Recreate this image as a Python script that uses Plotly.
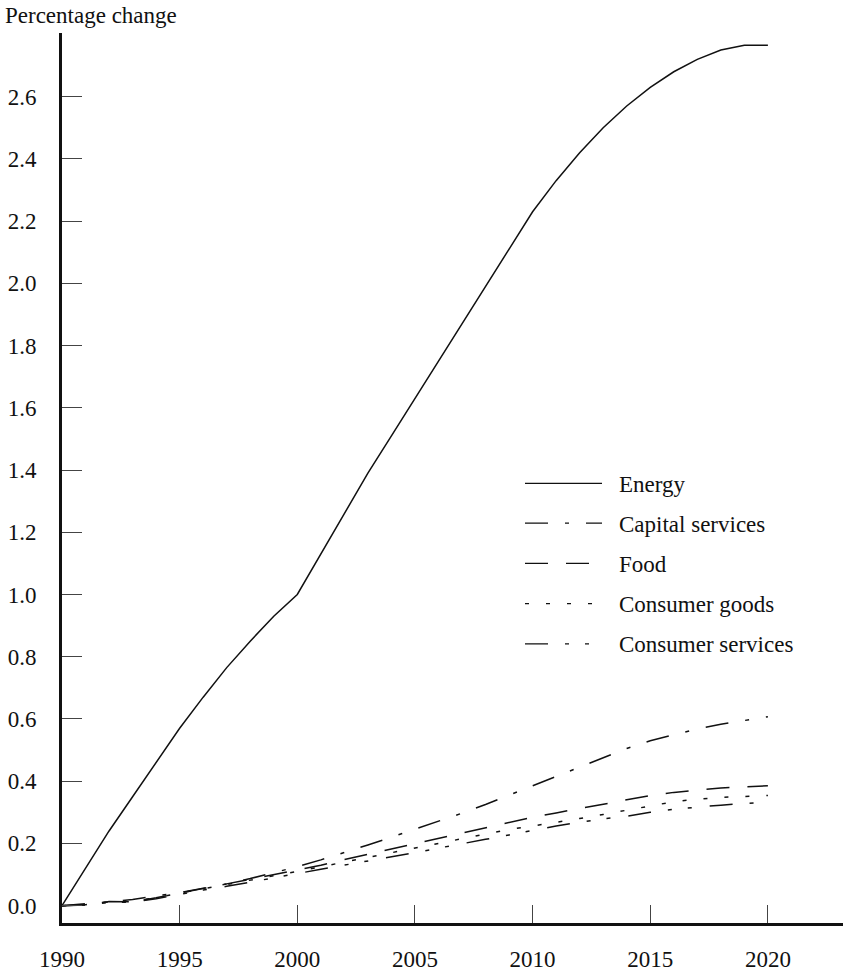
import plotly.graph_objects as go

# Projected percentage change by sector, 1990-2020
years = list(range(1990, 2021))

energy = [0.00, 0.12, 0.24, 0.35, 0.46, 0.57, 0.67, 0.765, 0.85, 0.93,
          1.00, 1.13, 1.26, 1.39, 1.51, 1.63, 1.75, 1.87, 1.99, 2.11,
          2.23, 2.33, 2.42, 2.50, 2.57, 2.63, 2.68, 2.72, 2.75, 2.765, 2.765]

capital_services = [0.000, 0.005, 0.012, 0.020, 0.030, 0.042, 0.056, 0.070, 0.087, 0.105,
                    0.125, 0.147, 0.170, 0.195, 0.220, 0.245, 0.270, 0.297, 0.325, 0.355,
                    0.385, 0.415, 0.445, 0.475, 0.505, 0.530, 0.550, 0.568, 0.583, 0.596, 0.607]

food = [0.000, 0.003, 0.013, 0.012, 0.025, 0.040, 0.055, 0.070, 0.085, 0.100,
        0.115, 0.130, 0.148, 0.165, 0.183, 0.200, 0.218, 0.235, 0.252, 0.268,
        0.284, 0.298, 0.312, 0.327, 0.342, 0.354, 0.364, 0.372, 0.378, 0.382, 0.385]

consumer_goods = [0.000, 0.003, 0.012, 0.013, 0.026, 0.040, 0.053, 0.066, 0.080, 0.095,
                  0.110, 0.125, 0.140, 0.155, 0.170, 0.185, 0.200, 0.215, 0.230, 0.245,
                  0.256, 0.267, 0.280, 0.293, 0.306, 0.320, 0.334, 0.342, 0.348, 0.351, 0.354]

consumer_services = [0.000, 0.002, 0.010, 0.011, 0.022, 0.037, 0.050, 0.062, 0.075, 0.090,
                     0.103, 0.117, 0.130, 0.143, 0.157, 0.170, 0.185, 0.200, 0.213, 0.227,
                     0.242, 0.256, 0.268, 0.279, 0.287, 0.300, 0.310, 0.317, 0.323, 0.328, 0.332]

series_names = ["Energy", "Capital services", "Food", "Consumer goods", "Consumer services"]
series_values = [energy, capital_services, food, consumer_goods, consumer_services]
dash_styles = ["solid", "23px,17px,4px,17px", "23px,18px", "4px,17px",
               "23px,17px,4px,16px,4px,18px"]

y_ticks = [round(0.2 * i, 1) for i in range(14)]
y_tick_text = [f"{v:.1f}" for v in y_ticks]
x_ticks = [1990, 1995, 2000, 2005, 2010, 2015, 2020]

FONT = "Liberation Serif, Times New Roman, serif"
INK = "#111111"
FS = 23

W, H = 845, 974
ML, MR, MT, MB = 62, 2, 33, 45
PW, PH = W - ML - MR, H - MT - MB

fig = go.Figure()
for name, vals, dash in zip(series_names, series_values, dash_styles):
    fig.add_trace(go.Scatter(x=years, y=vals, mode="lines", name=name,
                             line=dict(color=INK, width=1.5, dash=dash),
                             showlegend=False))


def px_x(px):
    return (px - ML) / PW


def px_y(py):
    return (H - MB - py) / PH


# Hand-drawn key inside the plot
shapes = []
annotations = []
key_rows = [486.5, 526.5, 567, 607.5, 648]
for name, dash, ky in zip(series_names, dash_styles, key_rows):
    shapes.append(dict(type="line", xref="paper", yref="paper",
                       x0=px_x(525), x1=px_x(602), y0=px_y(ky), y1=px_y(ky),
                       line=dict(color=INK, width=1.2, dash=dash)))
    annotations.append(dict(text=name, xref="paper", yref="paper",
                            x=px_x(617), y=px_y(ky + 1), xanchor="left", yanchor="middle",
                            showarrow=False, font=dict(family=FONT, size=FS, color=INK)))

annotations.append(dict(text="Percentage change", xref="paper", yref="paper",
                        x=px_x(3), y=px_y(15), xanchor="left", yanchor="middle",
                        showarrow=False, font=dict(family=FONT, size=FS, color=INK)))

fig.update_layout(
    width=W, height=H,
    margin=dict(l=ML, r=MR, t=MT, b=MB, pad=0),
    paper_bgcolor="white", plot_bgcolor="white",
    shapes=shapes, annotations=annotations,
    font=dict(family=FONT, size=FS, color=INK),
)

fig.update_xaxes(range=[1990, 1990 + PW / 23.53], tickvals=x_ticks,
                 ticks="inside", ticklen=18, tickwidth=1, tickcolor="#444444",
                 showline=True, linewidth=3, linecolor=INK,
                 showgrid=False, zeroline=False, ticklabelstandoff=13,
                 tickfont=dict(family=FONT, size=FS, color=INK))

fig.update_yaxes(range=[-0.0558, 2.8046], tickvals=y_ticks, ticktext=y_tick_text,
                 ticks="inside", ticklen=20, tickwidth=1, tickcolor="#444444",
                 showline=True, linewidth=3, linecolor=INK,
                 showgrid=False, zeroline=False, ticklabelstandoff=18,
                 tickfont=dict(family=FONT, size=FS, color=INK))

fig.write_html("out.html")
